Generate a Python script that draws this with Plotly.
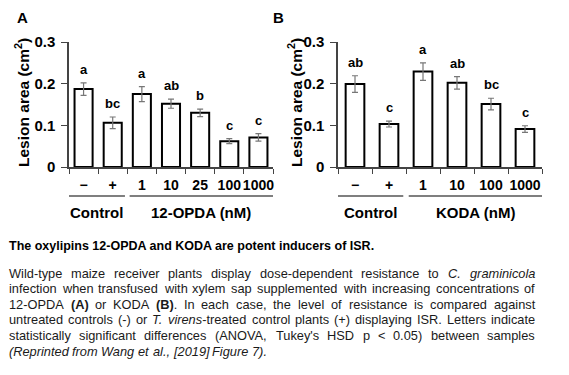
import re
import plotly.graph_objects as go

# page body has an 8px default margin; the figure is sized to fit the window
OFF = 8
W, H = 569 - OFF, 375 - OFF

# ---- data ----
cats_a = ["−", "+", "1", "10", "25", "100", "1000"]
vals_a = [0.187, 0.106, 0.175, 0.152, 0.130, 0.062, 0.071]
errs_a = [0.015, 0.014, 0.018, 0.011, 0.009, 0.006, 0.009]
lets_a = ["a", "bc", "a", "ab", "b", "c", "c"]

cats_b = ["−", "+", "1", "10", "100", "1000"]
vals_b = [0.199, 0.103, 0.229, 0.202, 0.151, 0.091]
errs_b = [0.020, 0.007, 0.021, 0.015, 0.014, 0.008]
lets_b = ["ab", "c", "a", "ab", "bc", "c"]

groups_a = ["Control", "12-OPDA (nM)"]
groups_b = ["Control", "KODA (nM)"]
ytickvals = [0, 0.1, 0.2, 0.3]
yticktext = ["0", "0.1", "0.2", "0.3"]

caption_title = "The oxylipins 12-OPDA and KODA are potent inducers of ISR."
caption_lines = [
    "Wild-type maize receiver plants display dose-dependent resistance to <i>C. graminicola</i>",
    "infection when transfused with xylem sap supplemented with increasing concentrations of",
    "12-OPDA <b>(A)</b> or KODA <b>(B)</b>. In each case, the level of resistance is compared against",
    "untreated controls (-) or <i>T. virens</i>-treated control plants (+) displaying ISR. Letters indicate",
    "statistically significant differences (ANOVA, Tukey's HSD p &lt; 0.05) between samples",
    "<i>(Reprinted from Wang et al., [2019] Figure 7).</i>",
]
justify = [True, True, True, True, True, False]

AX = "Arial, Liberation Sans, sans-serif"

# Arial advance widths (1/1000 em) for layout of justified caption text
_AW = {' ': 278, '!': 278, '"': 355, '#': 556, '$': 556, '%': 889, '&': 667, "'": 191,
       '(': 333, ')': 333, '*': 389, '+': 584, ',': 278, '-': 333, '.': 278, '/': 278,
       ':': 278, ';': 278, '<': 584, '=': 584, '>': 584, '?': 556, '@': 1015,
       '[': 278, '\\': 278, ']': 278, '^': 469, '_': 556, '`': 333,
       'A': 667, 'B': 667, 'C': 722, 'D': 722, 'E': 667, 'F': 611, 'G': 778, 'H': 722,
       'I': 278, 'J': 500, 'K': 667, 'L': 556, 'M': 833, 'N': 722, 'O': 778, 'P': 667,
       'Q': 778, 'R': 722, 'S': 667, 'T': 611, 'U': 722, 'V': 667, 'W': 944, 'X': 667,
       'Y': 667, 'Z': 611,
       'a': 556, 'b': 556, 'c': 500, 'd': 556, 'e': 556, 'f': 278, 'g': 556, 'h': 556,
       'i': 222, 'j': 222, 'k': 500, 'l': 222, 'm': 833, 'n': 556, 'o': 556, 'p': 556,
       'q': 556, 'r': 333, 's': 500, 't': 278, 'u': 556, 'v': 500, 'w': 722, 'x': 500,
       'y': 500, 'z': 500}
for d in "0123456789":
    _AW[d] = 556


def text_width(s, size):
    plain = re.sub(r"<[^>]+>", "", s).replace("&lt;", "<").replace("&gt;", ">")
    return sum(_AW.get(ch, 556) for ch in plain) * size / 1000.0


def split_words(line):
    """Split a marked-up line into words, each carrying its own open/close tags."""
    out = []
    stack = []
    for raw in line.split(" "):
        prefix = "".join("<%s>" % t for t in stack)
        for m in re.finditer(r"<(/?)(\w+)>", raw):
            if m.group(1):
                if stack and stack[-1] == m.group(2):
                    stack.pop()
            else:
                stack.append(m.group(2))
        suffix = "".join("</%s>" % t for t in reversed(stack))
        out.append(prefix + raw + suffix)
    return out


def px(x):
    return (x - OFF) / W


def py(y):
    return 1 - (y - OFF) / H


fig = go.Figure()
xs_a = list(range(len(cats_a)))
xs_b = list(range(len(cats_b)))

fig.add_trace(go.Bar(x=xs_a, y=vals_a, xaxis="x", yaxis="y", width=0.62,
                     marker=dict(color="white", line=dict(color="black", width=2)),
                     error_y=dict(type="data", array=errs_a, color="#777", thickness=1.2, width=3)))
fig.add_trace(go.Bar(x=xs_b, y=vals_b, xaxis="x2", yaxis="y2", width=0.55,
                     marker=dict(color="white", line=dict(color="black", width=2)),
                     error_y=dict(type="data", array=errs_b, color="#777", thickness=1.2, width=3)))

y_dom = [py(167), py(42)]
xa_dom = [px(69), px(273)]
xb_dom = [px(338), px(542)]

LINEC = "#444"


def xaxis_def(dom, anchor, cats):
    n = len(cats)
    return dict(domain=dom, anchor=anchor, range=[-0.5, n - 0.5], automargin=False,
                tickmode="array", tickvals=list(range(n)), ticktext=cats, tickangle=0,
                ticks="", showline=True, linecolor=LINEC, linewidth=1.5,
                showgrid=False, zeroline=False, ticklabelstandoff=4,
                tickfont=dict(family=AX, size=14, color="black", weight="bold"),
                minor=dict(tickmode="array", tickvals=[i - 0.5 for i in range(n + 1)],
                           ticks="outside", ticklen=5, tickcolor=LINEC, tickwidth=1.2,
                           showgrid=False))


def yaxis_def(anchor):
    return dict(domain=y_dom, anchor=anchor, range=[0, 0.3], tickvals=ytickvals,
                ticktext=yticktext, showline=True, linecolor=LINEC, linewidth=1.5,
                ticks="outside", ticklen=6, tickcolor=LINEC, tickwidth=1.2, automargin=False,
                showgrid=False, zeroline=False, ticklabelstandoff=3,
                tickfont=dict(family=AX, size=15, color="black", weight="bold"))


fig.update_layout(
    width=W, height=H, margin=dict(l=0, r=0, t=0, b=0, pad=0, autoexpand=False),
    plot_bgcolor="white", paper_bgcolor="white", showlegend=False,
    xaxis=xaxis_def(xa_dom, "y", cats_a),
    yaxis=yaxis_def("x"),
    xaxis2=xaxis_def(xb_dom, "y2", cats_b),
    yaxis2=yaxis_def("x2"),
)

ann = []
shapes = []
# significance letters
for xr, yr, xs, vals, errs, lets in [("x", "y", xs_a, vals_a, errs_a, lets_a),
                                     ("x2", "y2", xs_b, vals_b, errs_b, lets_b)]:
    for c, v, e, l in zip(xs, vals, errs, lets):
        ann.append(dict(x=c, y=v + e, xref=xr, yref=yr, text=l, showarrow=False,
                        xanchor="center", yanchor="bottom", yshift=4,
                        font=dict(family=AX, size=13, color="black", weight="bold")))

# group lines and labels
for xr, ncat, groups in [("x", len(cats_a), groups_a), ("x2", len(cats_b), groups_b)]:
    segs = [(-0.5, 1.42), (1.58, ncat - 0.5)]
    for (x0, x1), g in zip(segs, groups):
        shapes.append(dict(type="line", xref=xr, yref="paper", x0=x0, x1=x1,
                           y0=py(196), y1=py(196), line=dict(color="#555", width=1.5)))
        ann.append(dict(x=(x0 + x1) / 2, y=py(212), xref=xr, yref="paper", text=g,
                        showarrow=False, xanchor="center", yanchor="middle",
                        font=dict(family=AX, size=15, color="black", weight="bold")))

# y-axis titles
for xc in [22, 295]:
    ann.append(dict(x=px(xc), y=py(103), xref="paper", yref="paper", textangle=-90,
                    text="Lesion area (cm<sup>2</sup>)", showarrow=False,
                    xanchor="center", yanchor="middle",
                    font=dict(family=AX, size=15.5, color="black", weight="bold")))
# panel letters
for xc, t in [(22, "A"), (278, "B")]:
    ann.append(dict(x=px(xc), y=py(18), xref="paper", yref="paper", text=t, showarrow=False,
                    xanchor="center", yanchor="middle", borderpad=0,
                    font=dict(family=AX, size=15, color="black", weight="bold")))

# caption title
ann.append(dict(x=px(8), y=py(246), xref="paper", yref="paper", text=caption_title,
                xanchor="left", yanchor="middle", showarrow=False, borderpad=0,
                font=dict(family=AX, size=12.5, color="black", weight="bold")))

# caption body, justified word by word
CS = 12.8
X0, X1 = 8, 534
for i, (line, jus) in enumerate(zip(caption_lines, justify)):
    words = split_words(line)
    widths = [text_width(w, CS) for w in words]
    if jus and len(words) > 1:
        gap = (X1 - X0 - sum(widths)) / (len(words) - 1)
    else:
        gap = _AW[' '] * CS / 1000.0
    x = X0
    for w, wd in zip(words, widths):
        ann.append(dict(x=px(x), y=py(273 + 15.6 * i), xref="paper", yref="paper", text=w,
                        xanchor="left", yanchor="middle", showarrow=False, borderpad=0,
                        font=dict(family=AX, size=CS, color="#1a1a1a")))
        x += wd + gap

fig.update_layout(annotations=ann, shapes=shapes)
fig.write_html("out.html")
